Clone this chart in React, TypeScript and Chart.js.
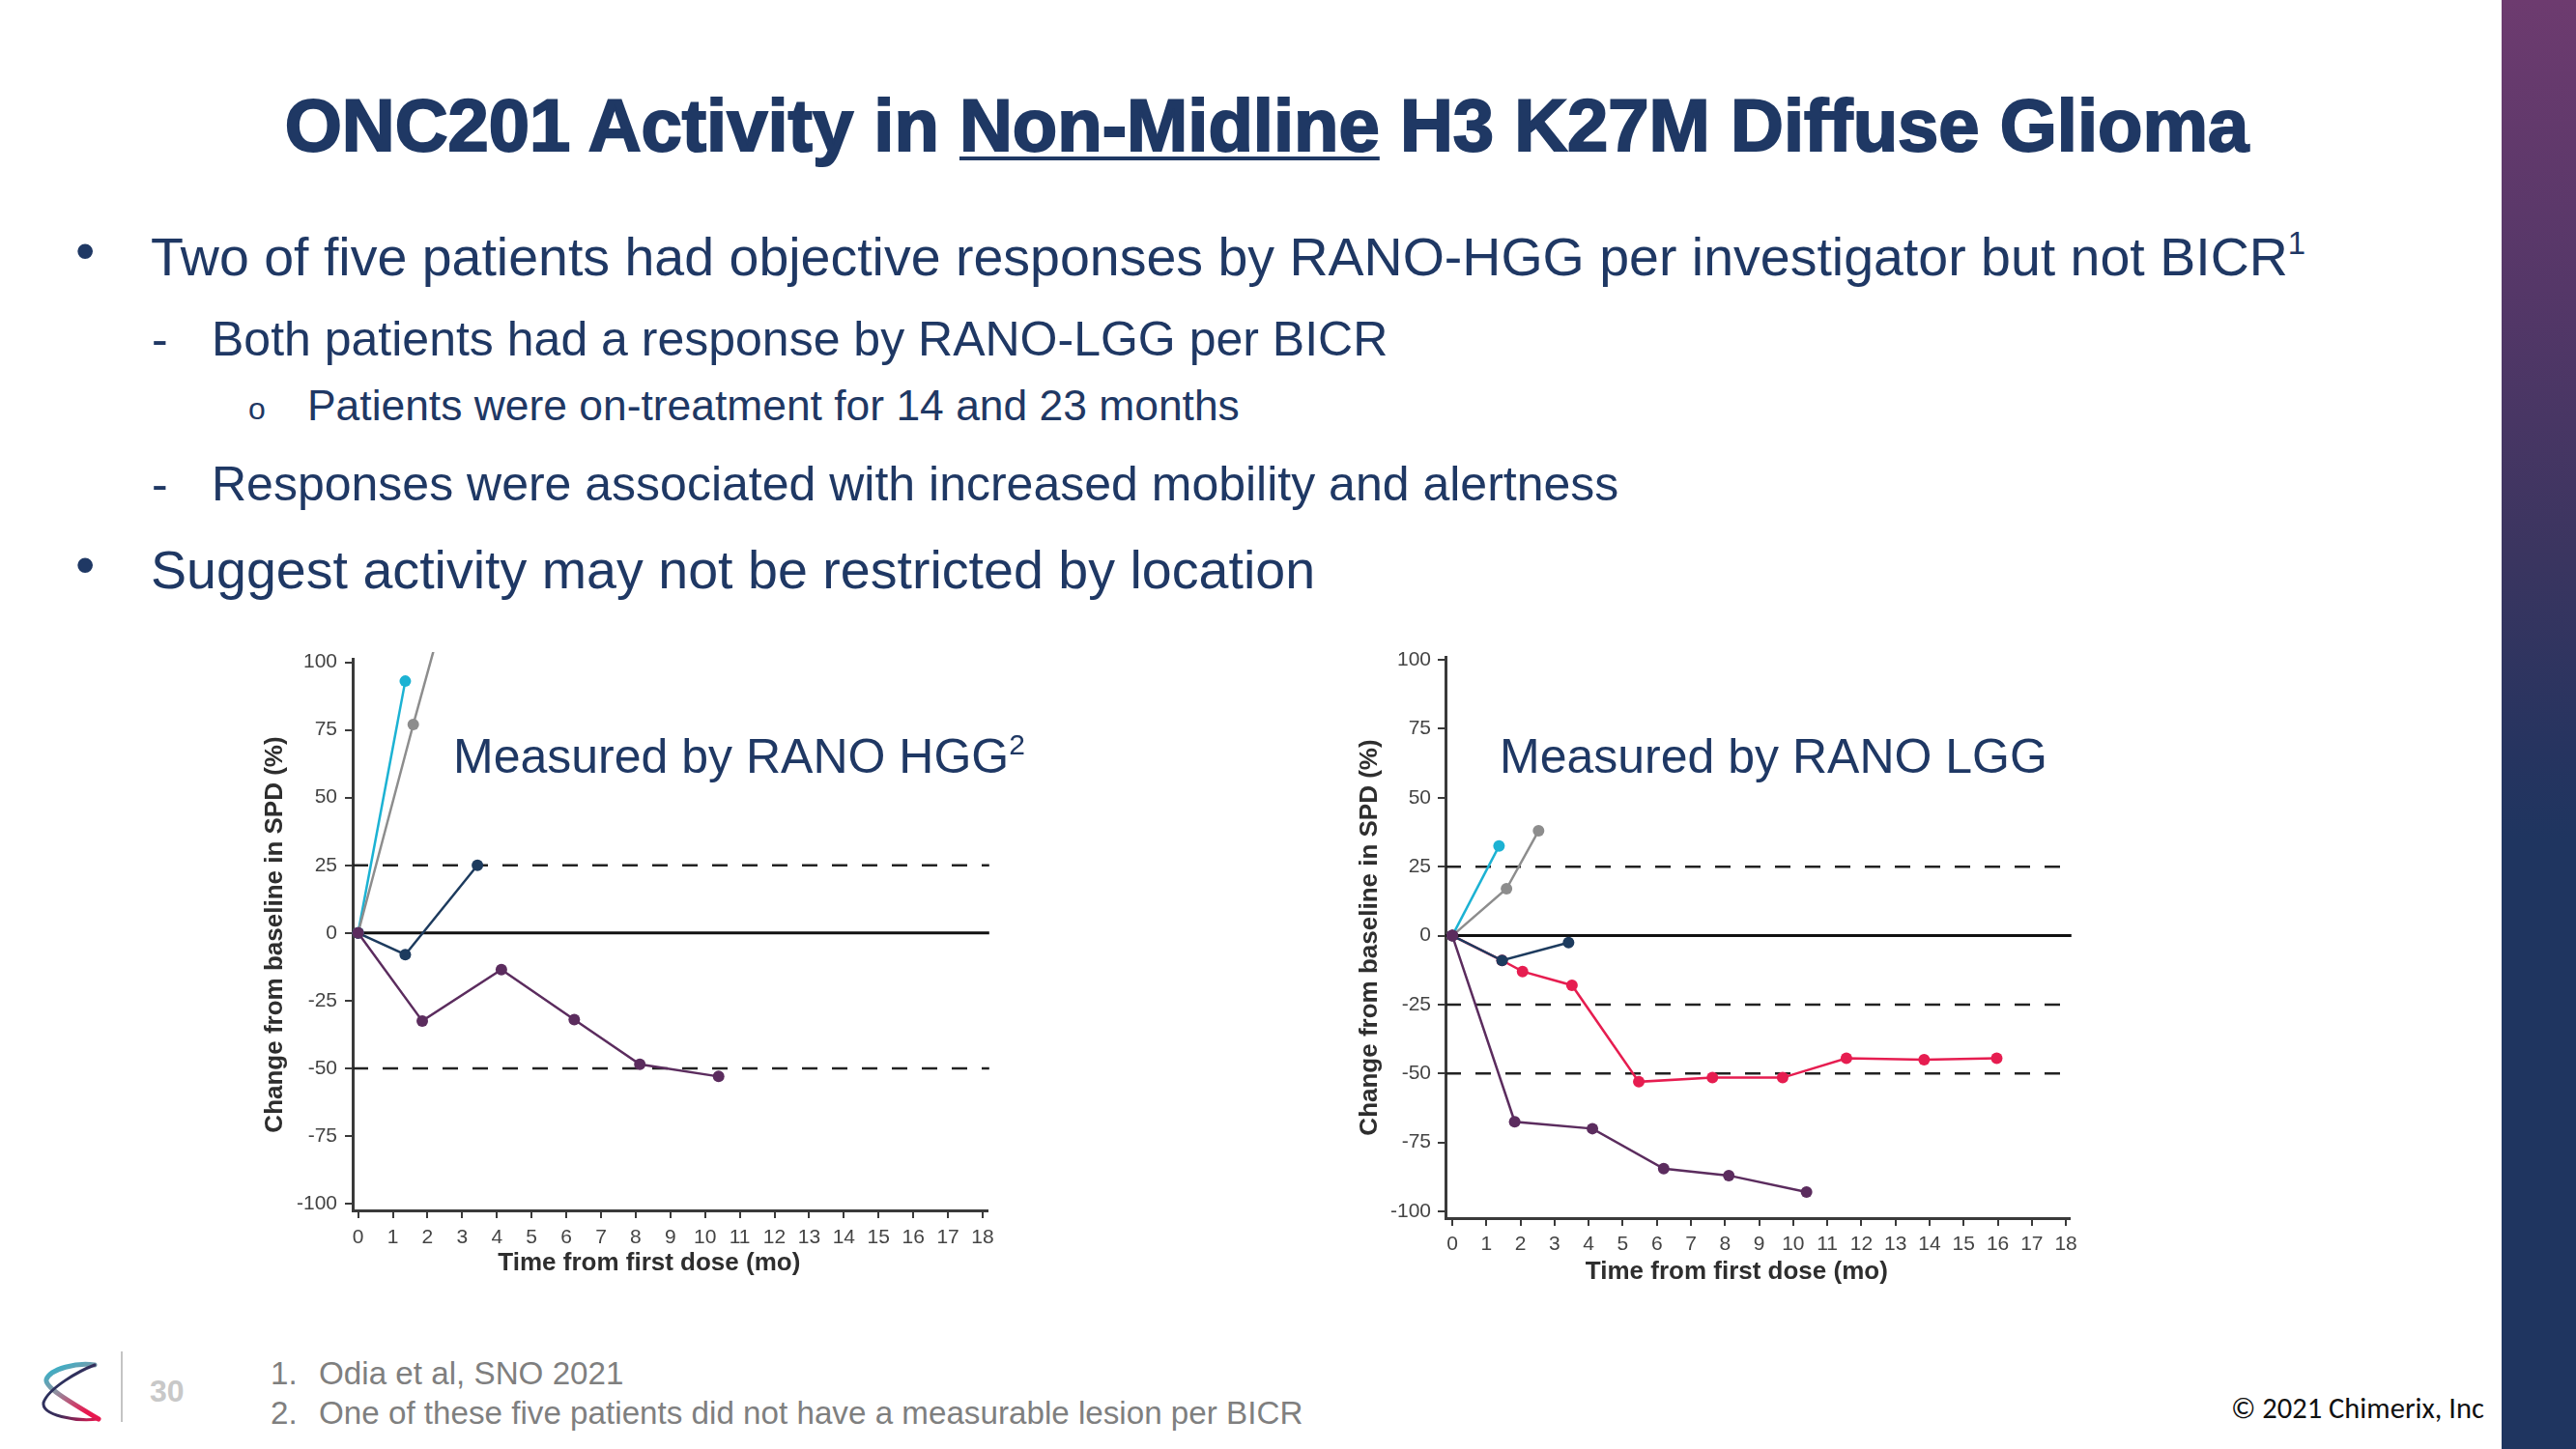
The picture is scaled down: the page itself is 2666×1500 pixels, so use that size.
import React, { useEffect, useRef } from "react";
import { Chart, registerables } from "chart.js";

Chart.register(...registerables);

const FONT = "'Liberation Sans', Arial, Helvetica, sans-serif";
const NAVY_TEXT = "#1f3864";

// ---------- axis ticks ----------
const monthTicks = [0, 1, 2, 3, 4, 5, 6, 7, 8, 9, 10, 11, 12, 13, 14, 15, 16, 17, 18];
const spdTicks = [-100, -75, -50, -25, 0, 25, 50, 75, 100];

// ---------- RANO HGG (left) ----------
const hggCyanMonths = [0, 1.36];
const hggCyanValues = [0, 93];
const hggGrayMonths = [0, 1.59, 2.9];
const hggGrayValues = [0, 77, 138];
const hggNavyMonths = [0, 1.36, 3.44];
const hggNavyValues = [0, -8, 25];
const hggPurpleMonths = [0, 1.85, 4.13, 6.23, 8.12, 10.39];
const hggPurpleValues = [0, -32.5, -13.5, -32, -48.5, -53];
const hggDashedLevels = [25, -50];

// ---------- RANO LGG (right) ----------
const lggCyanMonths = [0, 1.37];
const lggCyanValues = [0, 32.5];
const lggGrayMonths = [0, 1.59, 2.53];
const lggGrayValues = [0, 17, 38];
const lggNavyMonths = [0, 1.46, 3.41];
const lggNavyValues = [0, -9, -2.5];
const lggRedMonths = [0, 1.46, 2.06, 3.51, 5.47, 7.63, 9.69, 11.56, 13.84, 15.97];
const lggRedValues = [0, -9, -13, -18, -53, -51.5, -51.5, -44.5, -45, -44.5];
const lggPurpleMonths = [0, 1.83, 4.11, 6.2, 8.11, 10.39];
const lggPurpleValues = [0, -67.5, -70, -84.5, -87, -93];
const lggDashedLevels = [25, -25, -50];
const baselineLevel = 0;

const COLORS = {
  cyan: "#1cb2d3",
  gray: "#8d8d8d",
  navy: "#1d3b5e",
  purple: "#5b2c5e",
  red: "#e61d50",
};

type Series = { months: number[]; values: number[]; color: string; order: number };
type Frame = {
  xMin: number; xMax: number; yMin: number; yMax: number;
  padTop: number; padRight: number;
  yAxisWidth: number; xAxisHeight: number;
  yTickPad: number; xTickPad: number; yTitlePad: number; xTitlePad: number;
};

function SpdChart(props: {
  left: number; top: number; width: number; height: number;
  series: Series[]; dashed: number[]; frame: Frame;
}) {
  const ref = useRef<HTMLCanvasElement>(null);
  const { left, top, width, height, series, dashed, frame } = props;
  useEffect(() => {
    const canvas = ref.current!;
    const refLine = (level: number, solid: boolean) => ({
      type: "line",
      data: [{ x: frame.xMin, y: level }, { x: frame.xMax + 0.05, y: level }],
      borderColor: solid ? "#111111" : "#222222",
      borderWidth: solid ? 3 : 2.5,
      borderDash: solid ? [] : [16, 15],
      pointRadius: 0,
      order: 20,
      clip: false,
    });
    const datasets: any[] = [
      refLine(baselineLevel, true),
      ...dashed.map((d) => refLine(d, false)),
      ...series.map((s) => ({
        type: "line",
        data: s.months.map((m, i) => ({ x: m, y: s.values[i] })),
        borderColor: s.color,
        backgroundColor: s.color,
        pointBackgroundColor: s.color,
        pointBorderColor: s.color,
        borderWidth: 2.5,
        pointRadius: 6,
        pointBorderWidth: 0,
        tension: 0,
        order: s.order,
        clip: { left: 10, top: 7, right: 10, bottom: 10 },
      })),
    ];
    const tickFont = { family: FONT, size: 21 };
    const titleFont = { family: FONT, size: 26, weight: "bold" as const };
    const chart = new Chart(canvas, {
      type: "line",
      data: { datasets },
      options: {
        animation: false,
        responsive: false,
        devicePixelRatio: 1,
        layout: { padding: { top: frame.padTop, right: frame.padRight, left: 0, bottom: 0 } },
        plugins: { legend: { display: false }, tooltip: { enabled: false } },
        scales: {
          x: {
            type: "linear",
            min: frame.xMin,
            max: frame.xMax,
            afterBuildTicks: (s: any) => { s.ticks = monthTicks.map((v) => ({ value: v })); },
            afterFit: (s: any) => { s.height = frame.xAxisHeight; },
            ticks: {
              font: tickFont, color: "#444444", padding: frame.xTickPad,
              autoSkip: false, maxRotation: 0, callback: (v: any) => String(v),
            },
            grid: { drawOnChartArea: false, drawTicks: true, tickLength: 8, color: "#3a3a3a", lineWidth: 2 },
            border: { display: true, color: "#3a3a3a", width: 3 },
            title: {
              display: true, text: "Time from first dose (mo)      ", font: titleFont, color: "#2e2e2e",
              padding: { top: 0, bottom: frame.xTitlePad },
            },
          },
          y: {
            type: "linear",
            position: "left",
            min: frame.yMin,
            max: frame.yMax,
            afterBuildTicks: (s: any) => { s.ticks = spdTicks.map((v) => ({ value: v })); },
            afterFit: (s: any) => { s.width = frame.yAxisWidth; },
            ticks: {
              font: tickFont, color: "#444444", padding: frame.yTickPad,
              autoSkip: false, callback: (v: any) => String(v),
            },
            grid: { drawOnChartArea: false, drawTicks: true, tickLength: 8, color: "#3a3a3a", lineWidth: 2 },
            border: { display: true, color: "#3a3a3a", width: 3 },
            title: {
              display: true, text: "Change from baseline in SPD (%)",
              font: { family: FONT, size: 26, weight: "bold" as const }, color: "#2e2e2e",
              padding: { top: frame.yTitlePad, bottom: 0 },
            },
          },
        },
      } as any,
    });
    return () => chart.destroy();
  }, []);
  return (
    <canvas
      ref={ref}
      width={width}
      height={height}
      style={{ position: "absolute", left, top, width, height }}
    />
  );
}

function Txt(props: {
  x: number; baseline: number; size: number; color?: string; bold?: boolean;
  children: React.ReactNode; style?: React.CSSProperties;
}) {
  const { x, baseline, size, color, bold, children, style } = props;
  return (
    <div
      style={{
        position: "absolute",
        left: x,
        top: baseline - 0.8465 * size,
        fontFamily: FONT,
        fontSize: size,
        lineHeight: `${size}px`,
        fontWeight: bold ? 700 : 400,
        color: color || NAVY_TEXT,
        whiteSpace: "nowrap",
        ...style,
      }}
    >
      {children}
    </div>
  );
}

const hggSeries: Series[] = [
  { months: hggCyanMonths, values: hggCyanValues, color: COLORS.cyan, order: 5 },
  { months: hggGrayMonths, values: hggGrayValues, color: COLORS.gray, order: 4 },
  { months: hggNavyMonths, values: hggNavyValues, color: COLORS.navy, order: 3 },
  { months: hggPurpleMonths, values: hggPurpleValues, color: COLORS.purple, order: 1 },
];
const lggSeries: Series[] = [
  { months: lggCyanMonths, values: lggCyanValues, color: COLORS.cyan, order: 6 },
  { months: lggGrayMonths, values: lggGrayValues, color: COLORS.gray, order: 5 },
  { months: lggRedMonths, values: lggRedValues, color: COLORS.red, order: 4 },
  { months: lggNavyMonths, values: lggNavyValues, color: COLORS.navy, order: 3 },
  { months: lggPurpleMonths, values: lggPurpleValues, color: COLORS.purple, order: 1 },
];

const hggFrame: Frame = {
  xMin: -0.156, xMax: 18.14, yMin: -102.46, yMax: 101.25,
  padTop: 22, padRight: 15, yAxisWidth: 105, xAxisHeight: 74,
  yTickPad: 8, xTickPad: 8, yTitlePad: 9, xTitlePad: 4,
};
const lggFrame: Frame = {
  xMin: -0.2, xMax: 18.11, yMin: -102.45, yMax: 101.1,
  padTop: 20, padRight: 15, yAxisWidth: 106, xAxisHeight: 75,
  yTickPad: 7, xTickPad: 7, yTitlePad: 12, xTitlePad: 4,
};

function Logo() {
  return (
    <svg style={{ position: "absolute", left: 40, top: 1405 }} width="68" height="72" viewBox="0 0 68 72">
      <defs>
        <linearGradient id="lgA" x1="0" y1="0" x2="0.5" y2="1">
          <stop offset="0" stopColor="#1fb6d0" />
          <stop offset="0.45" stopColor="#8a97a5" />
          <stop offset="1" stopColor="#e8184f" />
        </linearGradient>
        <linearGradient id="lgB" x1="0" y1="0" x2="1" y2="1">
          <stop offset="0" stopColor="#1f3560" />
          <stop offset="0.6" stopColor="#3a2d5a" />
          <stop offset="1" stopColor="#e8184f" />
        </linearGradient>
      </defs>
      <path d="M58 8 C 40 5, 12 12, 8 23 C 6 31, 32 46, 62 64" stroke="url(#lgA)" strokeWidth="5" fill="none" strokeLinecap="round" />
      <path d="M58 8 C 42 14, 10 32, 5 47 C 3 60, 38 67, 62 64" stroke="url(#lgB)" strokeWidth="3" fill="none" strokeLinecap="round" />
    </svg>
  );
}

export default function App() {
  return (
    <div
      style={{
        position: "absolute", left: 0, top: 0, width: 2666, height: 1500,
        background: "#ffffff", overflow: "hidden", fontFamily: FONT,
      }}
    >
      {/* right sidebar */}
      <div
        style={{
          position: "absolute", left: 2589, top: 0, width: 77, height: 1500,
          background: "linear-gradient(to bottom, #6d3b6f 0%, #553768 20%, #3b3560 38%, #263460 52%, #1f3560 58%, #1f3560 100%)",
        }}
      />

      {/* title */}
      <div
        style={{
          position: "absolute", left: 0, width: 2622, top: 156.4 - 0.8465 * 76,
          textAlign: "center", fontFamily: FONT, fontSize: 76, lineHeight: "76px",
          fontWeight: 700, color: NAVY_TEXT, whiteSpace: "nowrap",
          WebkitTextStroke: `2px ${NAVY_TEXT}`,
        }}
      >
        ONC201 Activity in{" "}
        <span style={{ textDecoration: "underline", textDecorationThickness: "4px", textUnderlineOffset: "6px" }}>
          Non-Midline
        </span>{" "}
        H3 K27M Diffuse Glioma
      </div>

      {/* bullets */}
      <Txt x={78} baseline={279} size={58}>•</Txt>
      <Txt x={156} baseline={285.5} size={55.5}>
        Two of five patients had objective responses by RANO-HGG per investigator but not BICR
        <span style={{ position: "relative", top: -22, fontSize: 33 }}>1</span>
      </Txt>
      <Txt x={157} baseline={368} size={50}>-</Txt>
      <Txt x={219} baseline={368} size={50}>Both patients had a response by RANO-LGG per BICR</Txt>
      <Txt x={257} baseline={434} size={32}>o</Txt>
      <Txt x={318} baseline={436} size={44.4}>Patients were on-treatment for 14 and 23 months</Txt>
      <Txt x={157} baseline={518} size={50}>-</Txt>
      <Txt x={219} baseline={518} size={50}>Responses were associated with increased mobility and alertness</Txt>
      <Txt x={78} baseline={604} size={58}>•</Txt>
      <Txt x={156} baseline={610} size={55.6}>Suggest activity may not be restricted by location</Txt>

      {/* charts */}
      <SpdChart left={260} top={660} width={777} height={667} series={hggSeries} dashed={hggDashedLevels} frame={hggFrame} />
      <SpdChart left={1390} top={660} width={767} height={676} series={lggSeries} dashed={lggDashedLevels} frame={lggFrame} />

      <Txt x={469} baseline={800} size={50}>
        Measured by RANO HGG
        <span style={{ position: "relative", top: -19, fontSize: 30 }}>2</span>
      </Txt>
      <Txt x={1552} baseline={800} size={50}>Measured by RANO LGG</Txt>

      {/* footer */}
      <Logo />
      <div style={{ position: "absolute", left: 125, top: 1399, width: 2, height: 73, background: "#c4c4c4" }} />
      <Txt x={155} baseline={1451.5} size={32} bold color="#c8c8c8">30</Txt>
      <Txt x={280} baseline={1433} size={33.2} color="#7f7f7f">1.</Txt>
      <Txt x={330} baseline={1433} size={33.2} color="#7f7f7f">Odia et al, SNO 2021</Txt>
      <Txt x={280} baseline={1474} size={33.2} color="#7f7f7f">2.</Txt>
      <Txt x={330} baseline={1474} size={33.2} color="#7f7f7f">One of these five patients did not have a measurable lesion per BICR</Txt>
      <Txt x={2309} baseline={1469} size={30.5} color="#111111" style={{ fontFamily: "Carlito, 'Open Sans', " + FONT }}>
        © 2021 Chimerix, Inc
      </Txt>
    </div>
  );
}
